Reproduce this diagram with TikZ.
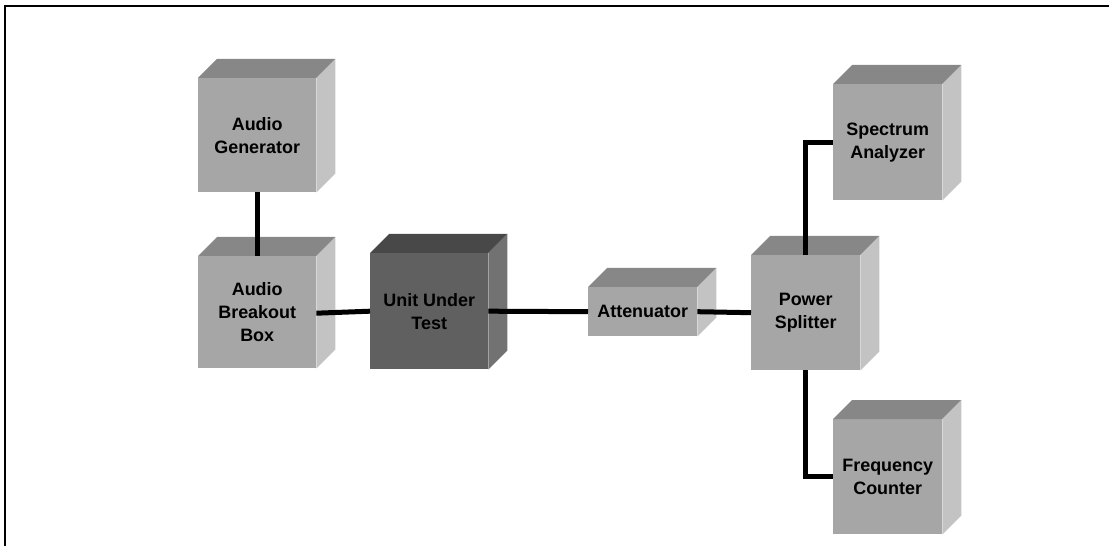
\documentclass[tikz,border=0pt]{standalone}
\usepackage{fontspec}
\setmainfont{Liberation Sans}
\begin{document}
\definecolor{frontlight}{HTML}{A6A6A6}
\definecolor{toplight}{HTML}{878787}
\definecolor{sidelight}{HTML}{C3C3C3}
\definecolor{frontdark}{HTML}{606060}
\definecolor{topdark}{HTML}{484848}
\definecolor{sidedark}{HTML}{727272}
% top and right faces of a cube whose front face is node #1
\newcommand\cubefaces[3]{%
  \fill[#2] (#1.north west) -- ++(19,-19) -- ([shift={(19,-19)}]#1.north east) -- (#1.north east) -- cycle;
  \fill[#3] (#1.north east) -- ++(19,-19) -- ([shift={(19,-19)}]#1.south east) -- (#1.south east) -- cycle;
}
\begin{tikzpicture}[x=1bp,y=-1bp,
  unit/.style={rectangle, inner sep=0pt, anchor=north west, align=center,
    fill=frontlight, text=black,
    font=\bfseries\fontsize{18}{23}\selectfont},
  darkunit/.style={unit, fill=frontdark},
  wire/.style={line width=5bp, line join=miter, black},
  frame/.style={line width=2.4bp, black}]
\useasboundingbox (0,0) rectangle (1109,546);
\draw[frame] (5.2,546) -- (5.2,6.2) -- (1109,6.2);

% front faces
\node[unit, minimum width=118bp, minimum height=114bp] (ag)  at (198,78)  {Audio\\Generator};
\node[unit, minimum width=118bp, minimum height=112bp] (abb) at (198,256) {Audio\\Breakout\\Box};
\node[darkunit, minimum width=118bp, minimum height=116bp] (uut) at (370,253) {Unit Under\\Test};
\node[unit, minimum width=109bp, minimum height=49bp] (att) at (588,287) {Attenuator};
\node[unit, minimum width=109bp, minimum height=115bp] (ps)  at (751,255) {Power\\Splitter};
\node[unit, minimum width=109bp, minimum height=116bp] (sa)  at (833,84)  {Spectrum\\Analyzer};
\node[unit, minimum width=109bp, minimum height=115bp] (fc)  at (833,419) {Frequency\\Counter};

% depth faces
\cubefaces{ag}{toplight}{sidelight}
\cubefaces{abb}{toplight}{sidelight}
\cubefaces{uut}{topdark}{sidedark}
\cubefaces{att}{toplight}{sidelight}
\cubefaces{ps}{toplight}{sidelight}
\cubefaces{sa}{toplight}{sidelight}
\cubefaces{fc}{toplight}{sidelight}

% cables
\draw[wire] (ag.south) -- (abb.north);
\draw[wire] ([yshift=-1bp]abb.east) -- (uut.west);
\draw[wire] (uut.east) -- (att.west);
\draw[wire] (att.east) -- (ps.west);
\draw[wire] (ps.north) |- (sa.west);
\draw[wire] (ps.south) |- (fc.west);
\end{tikzpicture}
\end{document}
